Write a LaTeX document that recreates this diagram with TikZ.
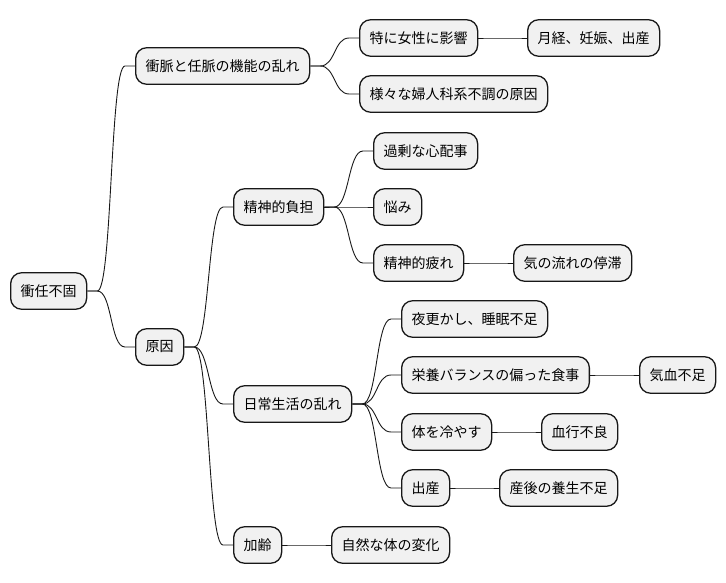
\documentclass[tikz,border=0pt]{standalone}
\usepackage{fontspec}
\newfontfamily\cjk{Noto Sans CJK JP}
\usetikzlibrary{calc}
\definecolor{boxfill}{HTML}{F1F1F1}
\definecolor{boxline}{HTML}{181818}
\tikzset{
  mmbox/.style={draw=boxline, fill=boxfill, line width=1.3pt, rounded corners=11pt,
    anchor=west, inner xsep=10pt, inner ysep=0pt, minimum height=36.5pt,
    font=\cjk\fontsize{14pt}{16pt}\selectfont, text=black},
  mm/.style={draw=boxline, line width=0.9pt,
    to path={-- ++(10pt,0) .. controls ($(\tikztostart)+(25pt,0)$) and ($(\tikztotarget)+(-25pt,0)$) .. ($(\tikztotarget)+(-10pt,0)$) -- (\tikztotarget)}}
}
\begin{document}
\begin{tikzpicture}[x=1pt,y=-1pt]
\useasboundingbox (0,0) rectangle (726,583);
\node[mmbox] (r) at (10,291) {衝任不固};
\node[mmbox] (a) at (135,66) {衝脈と任脈の機能の乱れ};
\node[mmbox] (b) at (135,347) {原因};
\node[mmbox] (a1) at (359,38) {特に女性に影響};
\node[mmbox] (a11) at (527,38) {月経、妊娠、出産};
\node[mmbox] (a2) at (359,94) {様々な婦人科系不調の原因};
\node[mmbox] (b1) at (233,207) {精神的負担};
\node[mmbox] (b2) at (233,404) {日常生活の乱れ};
\node[mmbox] (b3) at (233,545) {加齢};
\node[mmbox] (b11) at (373,151) {過剰な心配事};
\node[mmbox] (b12) at (373,207) {悩み};
\node[mmbox] (b13) at (373,263) {精神的疲れ};
\node[mmbox] (b131) at (513,263) {気の流れの停滞};
\node[mmbox] (b21) at (401,319) {夜更かし、睡眠不足};
\node[mmbox] (b22) at (401,375) {栄養バランスの偏った食事};
\node[mmbox] (b221) at (639,375) {気血不足};
\node[mmbox] (b23) at (401,432) {体を冷やす};
\node[mmbox] (b231) at (541,432) {血行不良};
\node[mmbox] (b24) at (401,488) {出産};
\node[mmbox] (b241) at (499,488) {産後の養生不足};
\node[mmbox] (b31) at (331,545) {自然な体の変化};
\draw[mm] (r.east) to (a.west);
\draw[mm] (r.east) to (b.west);
\draw[mm] (a.east) to (a1.west);
\draw[mm] (a.east) to (a2.west);
\draw[mm] (a1.east) to (a11.west);
\draw[mm] (b.east) to (b1.west);
\draw[mm] (b.east) to (b2.west);
\draw[mm] (b.east) to (b3.west);
\draw[mm] (b1.east) to (b11.west);
\draw[mm] (b1.east) to (b12.west);
\draw[mm] (b1.east) to (b13.west);
\draw[mm] (b13.east) to (b131.west);
\draw[mm] (b2.east) to (b21.west);
\draw[mm] (b2.east) to (b22.west);
\draw[mm] (b2.east) to (b23.west);
\draw[mm] (b2.east) to (b24.west);
\draw[mm] (b22.east) to (b221.west);
\draw[mm] (b23.east) to (b231.west);
\draw[mm] (b24.east) to (b241.west);
\draw[mm] (b3.east) to (b31.west);
\end{tikzpicture}
\end{document}
